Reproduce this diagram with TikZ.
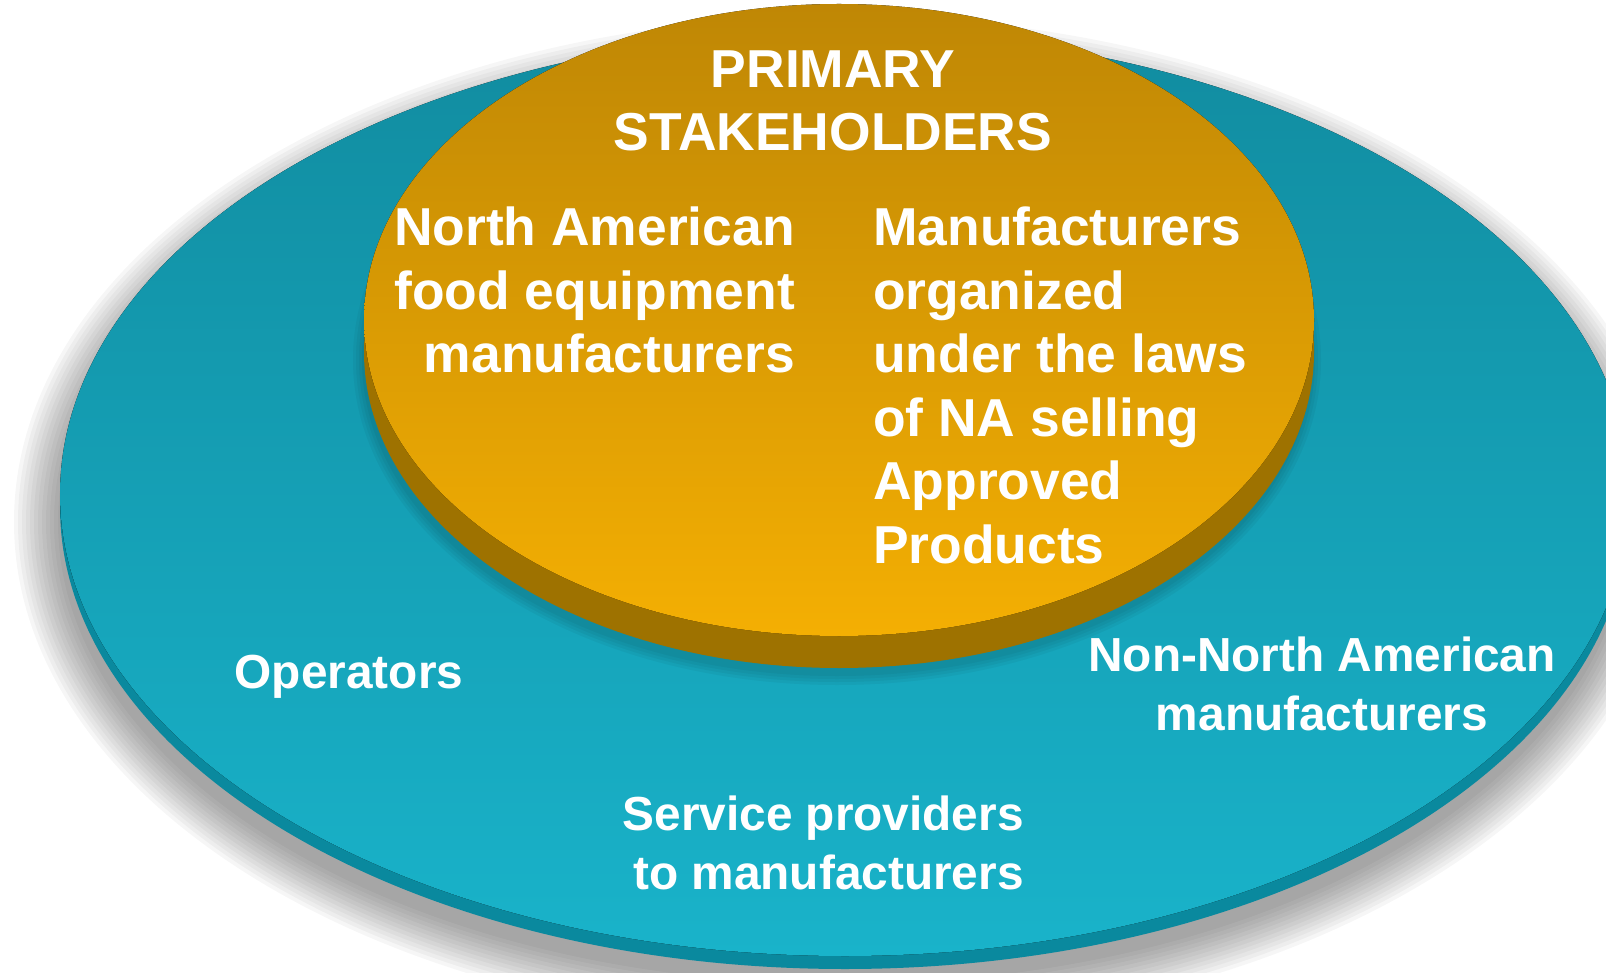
\documentclass[tikz,border=0pt]{standalone}
\usepackage{fontspec}
\setmainfont{Liberation Sans}
\usetikzlibrary{positioning}

\definecolor{tealtop}{HTML}{118CA0}
\definecolor{tealbot}{HTML}{19B3CA}
\definecolor{tealrim}{HTML}{0A899E}
\definecolor{goldtop}{HTML}{BF8705}
\definecolor{goldbot}{HTML}{F4AF03}
\definecolor{goldrim}{HTML}{9E7200}

\tikzset{
  bigtxt/.style={text=white, inner sep=0pt, font=\fontsize{53.4pt}{63.5pt}\selectfont\bfseries},
  smalltxt/.style={text=white, inner sep=0pt, font=\fontsize{47.8pt}{58.4pt}\selectfont\bfseries},
}

\begin{document}
\begin{tikzpicture}[x=1pt,y=-1pt]
\clip (0,0) rectangle (1606,973);
% soft shadow of the outer disk
\foreach \s in {2,6,...,46}
  \fill[black, opacity=0.035] (843,522) ellipse [x radius=783pt+\s pt, y radius=460pt+\s pt];
% outer disk
\fill[tealrim] (845,507) ellipse [x radius=785pt, y radius=462pt];
\fill[top color=tealtop, bottom color=tealbot] (845,494) ellipse [x radius=785pt, y radius=462pt];
% shadow of the inner disk
\foreach \s in {2,5,8,11}
  \fill[black, opacity=0.04] (837,360) ellipse [x radius=473pt+\s pt, y radius=314pt+\s pt];
% inner disk
\fill[goldrim] (839,352) ellipse [x radius=475pt, y radius=316pt];
\fill[top color=goldtop, bottom color=goldbot] (839,320) ellipse [x radius=475pt, y radius=316pt];

\node[bigtxt, align=center, anchor=base] (title) at (833,151) {PRIMARY\\STAKEHOLDERS};
\node[bigtxt, align=right, anchor=base east] (namfr) at (795,373) {North American\\food equipment\\manufacturers};
\node[bigtxt, align=left, anchor=base west] (naorg) at (873,563) {Manufacturers\\organized\\under the laws\\of NA selling\\Approved\\Products};
\node[smalltxt, anchor=base] (ops) at (349,688) {Operators};
\node[smalltxt, align=center, anchor=base] (nonna) at (1322,730) {Non-North American\\manufacturers};
\node[smalltxt, align=right, anchor=base east] (svc) at (1024,889) {Service providers\\to manufacturers};
\end{tikzpicture}
\end{document}
